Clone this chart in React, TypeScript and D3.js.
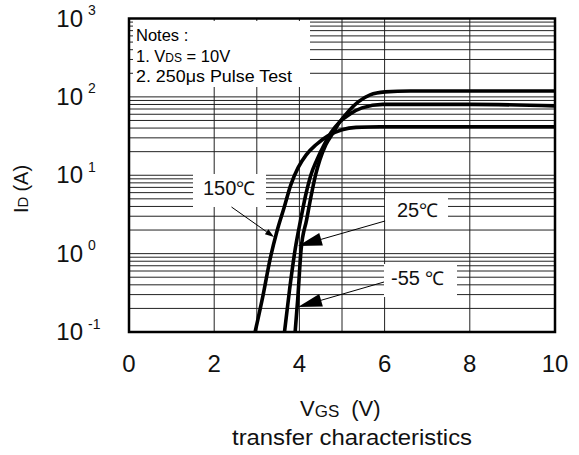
import React from 'react';
import * as d3 from 'd3';

// transfer characteristics, ID vs VGS at three temperatures
const vgs150 = [2.96, 3.15, 3.31, 3.47, 3.64, 3.8, 3.97, 4.16, 4.39, 4.67, 5.0, 5.33, 5.89, 10];
const id150 = [0.1, 0.3, 0.84, 1.9, 3.85, 7.6, 12.5, 18.2, 24.5, 31.8, 38, 40.8, 41.5, 41.5];

const vgs25 = [3.65, 3.77, 3.9, 4.03, 4.16, 4.27, 4.41, 4.58, 4.74, 4.95, 5.19, 5.47, 5.96, 8.0, 10];
const id25 = [0.1, 0.35, 1.13, 2.71, 5.98, 10.1, 15.7, 24.5, 34.8, 48.1, 60.7, 72.4, 80.2, 80.2, 76.8];

const vgsM55 = [3.9, 3.96, 4.04, 4.17, 4.29, 4.38, 4.48, 4.62, 4.79, 4.95, 5.14, 5.38, 5.66, 6.01, 6.6, 10];
const idM55 = [0.1, 0.26, 1.13, 2.71, 5.98, 10.1, 15.7, 24.5, 34.8, 48.1, 64.4, 86.3, 106, 115.8, 119, 119];

const xTicks = [0, 2, 4, 6, 8, 10];
const xGrid = [2, 3, 4, 5, 6, 8];
const yExps = [3, 2, 1, 0, -1];
const notes = ['Notes :', '1. V', '2. 250μs Pulse Test'];

const W = 579;
const H = 455;
const font = '"Liberation Sans", Arial, sans-serif';

function arrow(x1: number, y1: number, x2: number, y2: number, len: number, half: number) {
  const a = Math.atan2(y2 - y1, x2 - x1);
  const bx = x2 - len * Math.cos(a);
  const by = y2 - len * Math.sin(a);
  const px = -Math.sin(a) * half;
  const py = Math.cos(a) * half;
  return {
    line: [x1, y1, bx, by],
    head: `${x2},${y2} ${bx + px},${by + py} ${bx - px},${by - py}`,
  };
}

export default function App() {
  const x = d3.scaleLinear().domain([0, 10]).range([129, 555]);
  const y = d3.scaleLog().domain([0.1, 1000]).range([332, 18.5]);

  const line = d3
    .line<[number, number]>()
    .x((d) => x(d[0]))
    .y((d) => y(d[1]))
    .curve(d3.curveMonotoneX);

  const series = [
    vgs150.map((v, i) => [v, id150[i]] as [number, number]),
    vgs25.map((v, i) => [v, id25[i]] as [number, number]),
    vgsM55.map((v, i) => [v, idM55[i]] as [number, number]),
  ];

  const yGrid: number[] = [];
  for (let e = -1; e < 3; e++) {
    for (let m = 1; m < 10; m++) yGrid.push(m * Math.pow(10, e));
  }

  const a150 = arrow(231.5, 207, 274, 237, 9, 3);
  const a25 = arrow(385, 221, 298, 246, 24, 6.5);
  const a55 = arrow(384, 282, 298, 307, 24, 6.5);

  return (
    <svg
      width={W}
      height={H}
      style={{ position: 'absolute', left: 0, top: 0, background: '#fff' }}
      fontFamily={font}
    >
      <defs>
        <clipPath id="plot">
          <rect x={129} y={18.5} width={426} height={313.5} />
        </clipPath>
      </defs>

      {/* grid */}
      <g stroke="#222" strokeWidth={1}>
        {yGrid.map((v) => (
          <line key={'h' + v} x1={129} x2={555} y1={y(v)} y2={y(v)} />
        ))}
        {xGrid.map((v) => (
          <line key={'v' + v} x1={x(v)} x2={x(v)} y1={18.5} y2={332} />
        ))}
      </g>

      {/* white boxes behind the notes and labels */}
      <g fill="#fff">
        <rect x={133} y={21} width={177} height={66} />
        <rect x={193} y={174} width={73} height={33} />
        <rect x={385} y={196} width={63} height={24} />
        <rect x={384} y={264} width={73} height={33} />
      </g>

      {/* curves */}
      <g clipPath="url(#plot)" fill="none" stroke="#000" strokeWidth={3.6} strokeLinejoin="round">
        {series.map((s, i) => (
          <path key={i} d={line(s) || ''} />
        ))}
      </g>

      {/* frame */}
      <rect x={129} y={18.5} width={426} height={313.5} fill="none" stroke="#000" strokeWidth={2.5} />

      {/* notes */}
      <g fontSize={16.5} fill="#000">
        <text x={136} y={41}>{notes[0]}</text>
        <text x={136} y={62}>
          {notes[1]}
          <tspan fontSize={12}>DS</tspan>
          <tspan> = 10V</tspan>
        </text>
        <text x={136} y={82} textLength={156} lengthAdjust="spacingAndGlyphs">{notes[2]}</text>
      </g>

      {/* temperature labels */}
      <g fontSize={20} fill="#111">
        <text x={203} y={195}>150<tspan fontSize={19}>℃</tspan></text>
        <text x={397} y={216.5}>25<tspan fontSize={19}>℃</tspan></text>
        <text x={391} y={285}>-55 <tspan fontSize={19}>℃</tspan></text>
      </g>

      {/* arrows */}
      <g stroke="#000" strokeWidth={1}>
        <line x1={a150.line[0]} y1={a150.line[1]} x2={a150.line[2]} y2={a150.line[3]} />
        <line x1={a25.line[0]} y1={a25.line[1]} x2={a25.line[2]} y2={a25.line[3]} />
        <line x1={a55.line[0]} y1={a55.line[1]} x2={a55.line[2]} y2={a55.line[3]} />
      </g>
      <g fill="#000">
        <polygon points={a150.head} />
        <polygon points={a25.head} />
        <polygon points={a55.head} />
      </g>

      {/* x ticks */}
      <g fontSize={24} fill="#111" textAnchor="middle">
        {xTicks.map((v) => (
          <text key={v} x={x(v)} y={372}>{v}</text>
        ))}
      </g>

      {/* y ticks */}
      <g fill="#111">
        {yExps.map((e) => (
          <g key={e}>
            <text x={83} y={y(Math.pow(10, e)) + 8} fontSize={24} textAnchor="end">10</text>
            <text x={88} y={y(Math.pow(10, e)) - 3.5} fontSize={14}>{e}</text>
          </g>
        ))}
      </g>

      {/* axis titles */}
      <text transform="translate(28,213) rotate(-90)" fontSize={20} fill="#111">
        I<tspan fontSize={15}>D</tspan>
        <tspan dx={5}>(A)</tspan>
      </text>
      <text x={300} y={416} fontSize={22} fill="#111">
        V<tspan fontSize={17} dy={1}>GS</tspan>
        <tspan dy={-1} dx={12}>(V)</tspan>
      </text>
      <text x={352} y={445} fontSize={22} fill="#111" textAnchor="middle" textLength={240} lengthAdjust="spacingAndGlyphs">
        transfer characteristics
      </text>
    </svg>
  );
}
